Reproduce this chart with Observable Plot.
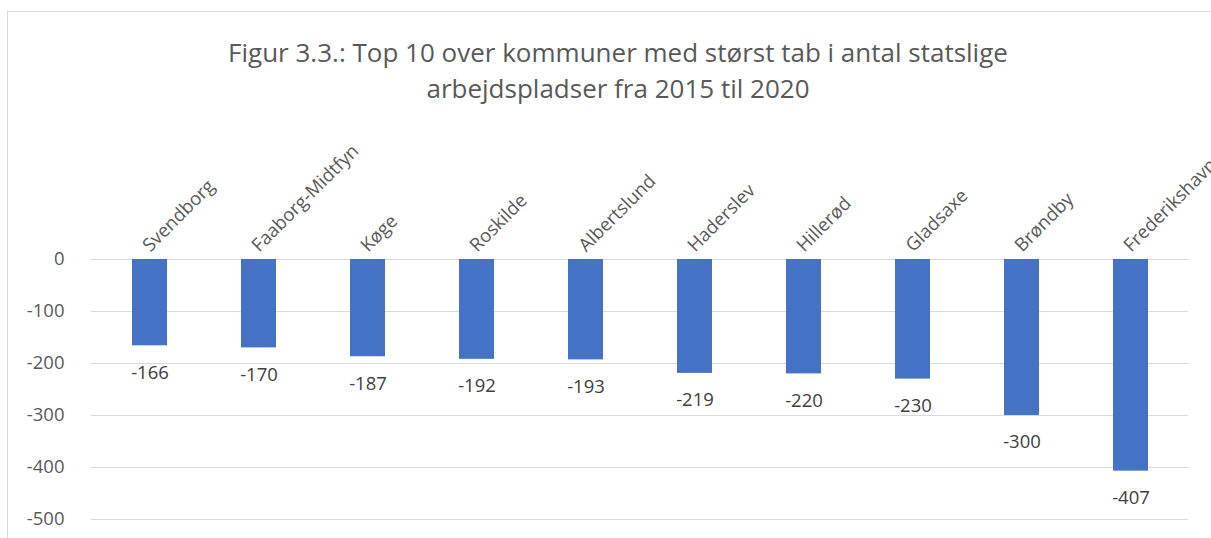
<!DOCTYPE html>
<html>
<head>
<meta charset="utf-8">
<script src="https://cdn.jsdelivr.net/npm/d3@7"></script>
<script src="https://cdn.jsdelivr.net/npm/@observablehq/plot@0.6"></script>
<style>
  html, body { margin: 0; padding: 0; background: #fff; overflow: hidden; width: 1211px; height: 538px; }
  #frame { position: absolute; left: 7px; top: 11px; width: 1220px; height: 560px; border: 1px solid #d9d9d9; background: #fff; }
  #title { position: absolute; left: 0; top: 0; width: 1220px; height: 98px; font-family: "Open Sans", sans-serif; font-size: 26px; color: #595959; text-align: center; line-height: 36px; padding-top: 22px; box-sizing: border-box; }
  #chart { position: absolute; left: 0; top: 98px; }
</style>
</head>
<body>
<div id="frame">
  <div id="title">Figur 3.3.: Top 10 over kommuner med størst tab i antal statslige<br>arbejdspladser fra 2015 til 2020</div>
  <div id="chart"></div>
</div>
<script>
const kommuner = ["Svendborg", "Faaborg-Midtfyn", "Køge", "Roskilde", "Albertslund", "Haderslev", "Hillerød", "Gladsaxe", "Brøndby", "Frederikshavn"];
const tab = [-166, -170, -187, -192, -193, -219, -220, -230, -300, -407];
const yTicks = [0, -100, -200, -300, -400, -500];

const data = kommuner.map((k, i) => ({kommune: k, value: tab[i]}));

const plot = Plot.plot({
  width: 1203,
  height: 428,
  marginLeft: 83,
  marginRight: 23,
  marginTop: 149,
  marginBottom: 19,
  style: {fontFamily: "Open Sans, sans-serif", overflow: "visible"},
  x: {domain: kommuner, paddingInner: 0.68, paddingOuter: 0.34, axis: null},
  y: {domain: [-500, 0], ticks: yTicks, tickFormat: d => String(d), label: null},
  marks: [
    Plot.gridY(yTicks, {stroke: "#d9d9d9", strokeOpacity: 1, strokeWidth: 1}),
    Plot.axisY(yTicks, {tickSize: 0, tickPadding: 27, fontSize: 18.5, fill: "#595959", tickFormat: d => String(d), label: null}),
    Plot.barY(data, {x: "kommune", y: "value", fill: "#4472C4"}),
    Plot.text(data, {x: "kommune", y: "value", text: d => String(d.value), dy: 27, fontSize: 18.5, fill: "#404040"}),
    Plot.text(data, {x: "kommune", y: () => 0, text: "kommune", rotate: -45, textAnchor: "start", dx: -4, dy: -11, fontSize: 18.5, fill: "#595959"})
  ]
});
document.getElementById("chart").appendChild(plot);
</script>
</body>
</html>
